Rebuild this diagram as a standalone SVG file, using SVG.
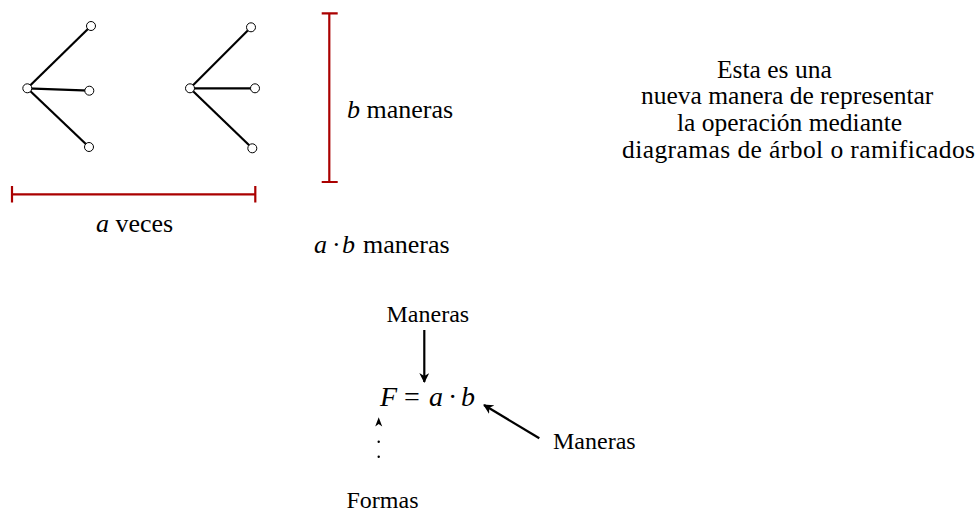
<svg xmlns="http://www.w3.org/2000/svg" width="980" height="512" viewBox="0 0 980 512">
<style>
text{font-family:"Liberation Serif","Times New Roman",serif;fill:#000}
.t{font-size:26px}
.d{font-size:25.5px}
.l{font-size:24px}
.i{font-style:italic}
.edge{stroke:#000;stroke-width:2.2;fill:none}
.node{fill:#fff;stroke:#000;stroke-width:1}
.red{stroke:#a00;stroke-width:2.2;fill:none}
</style>
<defs>
<marker id="ah2" viewBox="0 0 10 10" refX="9" refY="5" markerWidth="10" markerHeight="10" markerUnits="userSpaceOnUse" orient="auto">
<path d="M0,0 L10,5 L0,10 L3,5 Z" fill="#000"/>
</marker>
</defs>
<g id="connectors">
<line class="edge" x1="27.3" y1="88.3" x2="91" y2="26"/>
<line class="edge" x1="27.3" y1="88.3" x2="89.3" y2="90.7"/>
<line class="edge" x1="27.3" y1="88.3" x2="89" y2="147"/>
<line class="edge" x1="190" y1="88.3" x2="251" y2="27.3"/>
<line class="edge" x1="190" y1="88.3" x2="255" y2="88.3"/>
<line class="edge" x1="190" y1="88.3" x2="252.3" y2="148.3"/>
<line class="edge" x1="424.3" y1="330" x2="424.3" y2="382" marker-end="url(#ah2)"/>
<line class="edge" x1="539.3" y1="438.3" x2="484" y2="405" marker-end="url(#ah2)"/>
<path d="M378.7,417.3 L382.2,426.5 L378.7,424 L375.2,426.5 Z" fill="#000"/>
<circle cx="378.7" cy="441.7" r="1.2" fill="#000"/>
<circle cx="378.7" cy="456.7" r="1.2" fill="#000"/>
</g>
<g id="tree1">
<circle class="node" cx="27.3" cy="88.3" r="4.5"/>
<circle class="node" cx="91" cy="26" r="4.5"/>
<circle class="node" cx="89.3" cy="90.7" r="4.5"/>
<circle class="node" cx="89" cy="147" r="4.5"/>
</g>
<g id="tree2">
<circle class="node" cx="190" cy="88.3" r="4.5"/>
<circle class="node" cx="251" cy="27.3" r="4.5"/>
<circle class="node" cx="255" cy="88.3" r="4.5"/>
<circle class="node" cx="252.3" cy="148.3" r="4.5"/>
</g>
<g id="bracket-a">
<path class="red" d="M12,194.3 H255.3 M12,186 V202.5 M255.3,186 V202.5"/>
<text class="t" x="96" y="232"><tspan class="i">a</tspan> veces</text>
</g>
<g id="bracket-b">
<path class="red" d="M329.3,13.3 V182 M321.7,13.3 H337.7 M321.7,182 H337.7"/>
<text class="t" x="347" y="118"><tspan class="i">b</tspan> maneras</text>
</g>
<g id="product">
<text class="t" y="253"><tspan class="i" x="314">a</tspan><tspan x="332">·</tspan><tspan class="i" x="342">b</tspan><tspan x="363">maneras</tspan></text>
</g>
<g id="description">
<text class="d" x="717" y="78">Esta es una</text>
<text class="d" x="641" y="104">nueva manera de representar</text>
<text class="d" x="677" y="131">la operación mediante</text>
<text class="d" x="622" y="158" textLength="353" lengthAdjust="spacing">diagramas de árbol o ramificados</text>
</g>
<g id="formula">
<text font-size="28" y="406"><tspan class="i" x="380">F</tspan><tspan x="404">=</tspan><tspan class="i" x="429">a</tspan><tspan x="448">·</tspan><tspan class="i" x="461">b</tspan></text>
</g>
<g id="label-top"><text class="l" x="386.5" y="322">Maneras</text></g>
<g id="label-right"><text class="l" x="553" y="449">Maneras</text></g>
<g id="label-bottom"><text class="l" x="346.5" y="508" font-size="25">Formas</text></g>
</svg>
